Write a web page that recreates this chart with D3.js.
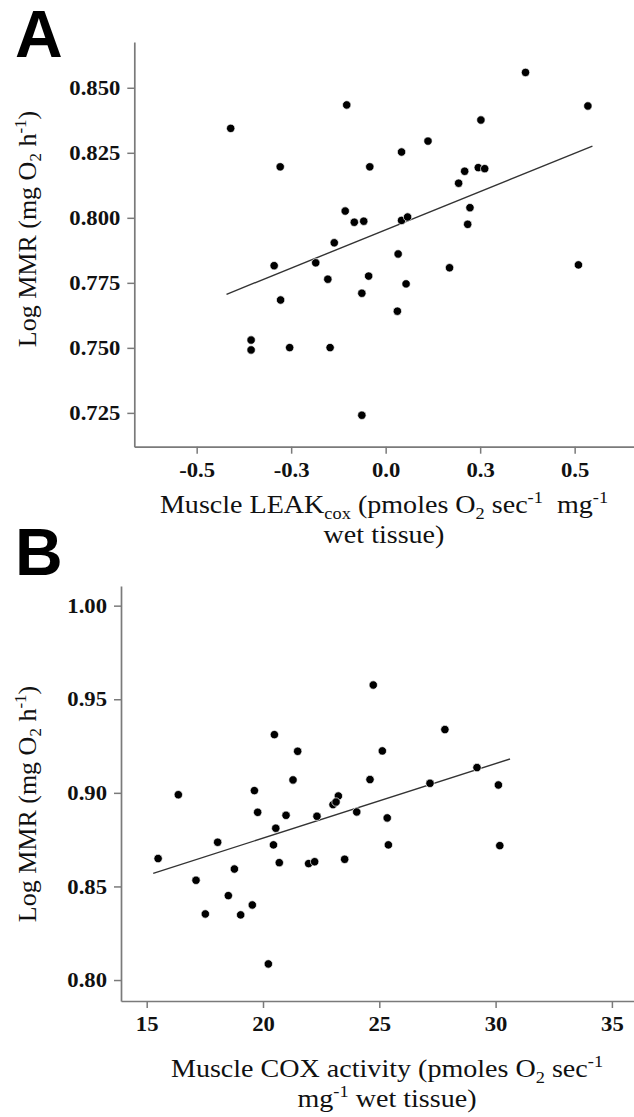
<!DOCTYPE html>
<html>
<head>
<meta charset="utf-8">
<script src="https://cdn.jsdelivr.net/npm/d3@7"></script>
<style>
  html, body { margin: 0; padding: 0; background: #fff; }
  svg { display: block; }
</style>
</head>
<body>
<svg id="chart" width="634" height="1117"></svg>
<script>
// ---------- Panel A data ----------
const leakX = [-0.410,-0.103,-0.279,-0.042,-0.107,-0.083,-0.058,-0.136,0.370,0.535,0.252,0.112,0.042,0.209,0.245,0.262,0.193,0.223,0.217,0.042,0.058,0.033,-0.295,-0.185,-0.153,-0.278,-0.356,-0.356,-0.254,-0.147,-0.063,-0.045,-0.063,0.169,0.510,0.054,0.031];
const mmrA  = [0.8344,0.8434,0.8196,0.8196,0.8026,0.7983,0.7987,0.7904,0.8559,0.8430,0.8376,0.8295,0.8253,0.8179,0.8193,0.8189,0.8133,0.8039,0.7975,0.7990,0.8003,0.7861,0.7816,0.7827,0.7764,0.7684,0.7530,0.7492,0.7501,0.7501,0.7710,0.7776,0.7241,0.7808,0.7819,0.7746,0.7641];
const fitAx = [-0.421, 0.547];
const fitAy = [0.7706, 0.8276];
const xTicksA = [-0.5, -0.25, 0, 0.25, 0.5];
const xTickLabelsA = ["-0.5", "-0.3", "0.0", "0.3", "0.5"];
const yTicksA = [0.725, 0.750, 0.775, 0.800, 0.825, 0.850];
const yTickLabelsA = ["0.725", "0.750", "0.775", "0.800", "0.825", "0.850"];

// ---------- Panel B data ----------
const coxX = [20.49,21.49,21.29,16.36,19.63,23.24,24.74,27.82,25.13,24.60,27.18,29.20,30.12,15.49,17.12,18.05,17.52,18.77,18.51,19.04,19.54,19.77,20.23,20.55,20.45,20.70,20.99,21.96,22.22,22.32,23.01,23.14,23.51,24.03,25.34,25.39,30.18];
const mmrB = [0.9311,0.9222,0.9069,0.8990,0.9012,0.8983,0.9576,0.9338,0.9224,0.9071,0.9051,0.9135,0.9042,0.8649,0.8533,0.8736,0.8353,0.8593,0.8451,0.8348,0.8401,0.8896,0.8086,0.8811,0.8722,0.8627,0.8880,0.8622,0.8632,0.8875,0.8937,0.8951,0.8645,0.8898,0.8866,0.8722,0.8718];
const fitBx = [15.28, 30.62];
const fitBy = [0.8570, 0.9181];
const xTicksB = [15, 20, 25, 30, 35];
const xTickLabelsB = ["15", "20", "25", "30", "35"];
const yTicksB = [0.80, 0.85, 0.90, 0.95, 1.00];
const yTickLabelsB = ["0.80", "0.85", "0.90", "0.95", "1.00"];

const svg = d3.select("#chart");
const SERIF = "'Liberation Serif', 'Times New Roman', serif";
const SANS = "'Liberation Sans', Arial, Helvetica, sans-serif";
const STRETCH = 1.08;

function panel(cfg) {
  const x = d3.scaleLinear().domain(cfg.xDomain).range([cfg.left, cfg.right]);
  const y = d3.scaleLinear().domain(cfg.yDomain).range([cfg.bottom, cfg.top]);
  const g = svg.append("g");

  const xAxis = d3.axisBottom(x).tickValues(cfg.xTicks)
    .tickFormat((d, i) => cfg.xLabels[i]).tickSize(7).tickSizeOuter(0).tickPadding(8);
  const yAxis = d3.axisLeft(y).tickValues(cfg.yTicks)
    .tickFormat((d, i) => cfg.yLabels[i]).tickSize(7).tickSizeOuter(0).tickPadding(7);

  const gx = g.append("g").attr("transform", `translate(0,${cfg.bottom})`).call(xAxis);
  const gy = g.append("g").attr("transform", `translate(${cfg.left},0)`).call(yAxis);
  [gx, gy].forEach(a => {
    a.select(".domain").attr("stroke", "#7a7a7a").attr("stroke-width", 1.7);
    a.selectAll(".tick line").attr("stroke", "#7a7a7a").attr("stroke-width", 1.5);
    a.selectAll(".tick text")
      .attr("font-family", SERIF).attr("font-weight", "bold")
      .attr("font-size", 21).attr("fill", "#111");
  });
  gy.selectAll(".tick text").each(function () {
    const t = d3.select(this);
    const xx = +t.attr("x");
    t.attr("x", xx / STRETCH).attr("transform", `scale(${STRETCH},1)`);
  });
  gx.selectAll(".tick text").attr("transform", `scale(${STRETCH},1)`);

  // fit line
  g.append("line")
    .attr("x1", x(cfg.fitX[0])).attr("y1", y(cfg.fitY[0]))
    .attr("x2", x(cfg.fitX[1])).attr("y2", y(cfg.fitY[1]))
    .attr("stroke", "#333").attr("stroke-width", 1.4);

  // points
  g.append("g").selectAll("circle")
    .data(cfg.xs.map((v, i) => [v, cfg.ys[i]]))
    .join("circle")
    .attr("cx", d => x(d[0])).attr("cy", d => y(d[1]))
    .attr("r", 4.2).attr("fill", "#000")
    .attr("stroke", "#fff").attr("stroke-width", 0.7);

  // panel letter
  g.append("text").attr("x", cfg.letterX).attr("y", cfg.letterY)
    .attr("font-family", SANS).attr("font-weight", "bold").attr("font-size", 66)
    .attr("fill", "#000").text(cfg.letter);

  // y title (rotated)
  const yt = g.append("text")
    .attr("transform", `translate(${cfg.yTitleX},${cfg.yTitleY}) rotate(-90)`)
    .attr("text-anchor", "middle").attr("font-family", SERIF).attr("font-size", 26).attr("fill", "#111");
  yt.append("tspan").text("Log MMR (mg O");
  yt.append("tspan").attr("font-size", 17).attr("dy", 5).text("2");
  yt.append("tspan").attr("dy", -5).text(" h");
  yt.append("tspan").attr("font-size", 17).attr("dy", -10).text("-1");
  yt.append("tspan").attr("dy", 10).text(")");

  // x title lines
  cfg.xTitle.forEach((line, li) => {
    const t = g.append("text")
      .attr("transform", `translate(${cfg.xTitleX},${cfg.xTitleY[li]}) scale(${STRETCH},1)`)
      .attr("text-anchor", "middle").attr("font-family", SERIF).attr("font-size", 26)
      .attr("fill", "#111").attr("xml:space", "preserve");
    let shift = 0;
    line.forEach(part => {
      const ts = t.append("tspan").text(part.t);
      const target = part.s === "sub" ? 6 : part.s === "sup" ? -10 : 0;
      if (target !== shift) { ts.attr("dy", target - shift); shift = target; }
      if (part.s) ts.attr("font-size", 17);
    });
  });
}

panel({
  xDomain: [-0.665, 0.657], yDomain: [0.712, 0.8676],
  left: 134.3, right: 634, top: 42, bottom: 446.7,
  xTicks: xTicksA, xLabels: xTickLabelsA, yTicks: yTicksA, yLabels: yTickLabelsA,
  xs: leakX, ys: mmrA, fitX: fitAx, fitY: fitAy,
  letter: "A", letterX: 15, letterY: 57,
  yTitleX: 36, yTitleY: 229,
  xTitleX: 384, xTitleY: [513, 543],
  xTitle: [
    [{t: "Muscle LEAK"}, {t: "cox", s: "sub"}, {t: " (pmoles O"}, {t: "2", s: "sub"}, {t: " sec"}, {t: "-1", s: "sup"}, {t: "\u00a0 mg"}, {t: "-1", s: "sup"}],
    [{t: "wet tissue)"}]
  ]
});

panel({
  xDomain: [13.895, 35.95], yDomain: [0.7888, 1.0105],
  left: 121, right: 634, top: 586, bottom: 1001,
  xTicks: xTicksB, xLabels: xTickLabelsB, yTicks: yTicksB, yLabels: yTickLabelsB,
  xs: coxX, ys: mmrB, fitX: fitBx, fitY: fitBy,
  letter: "B", letterX: 15, letterY: 575,
  yTitleX: 36, yTitleY: 804,
  xTitleX: 387, xTitleY: [1077, 1107],
  xTitle: [
    [{t: "Muscle COX activity (pmoles O"}, {t: "2", s: "sub"}, {t: " sec"}, {t: "-1", s: "sup"}],
    [{t: "mg"}, {t: "-1", s: "sup"}, {t: " wet tissue)"}]
  ]
});
</script>
</body>
</html>
